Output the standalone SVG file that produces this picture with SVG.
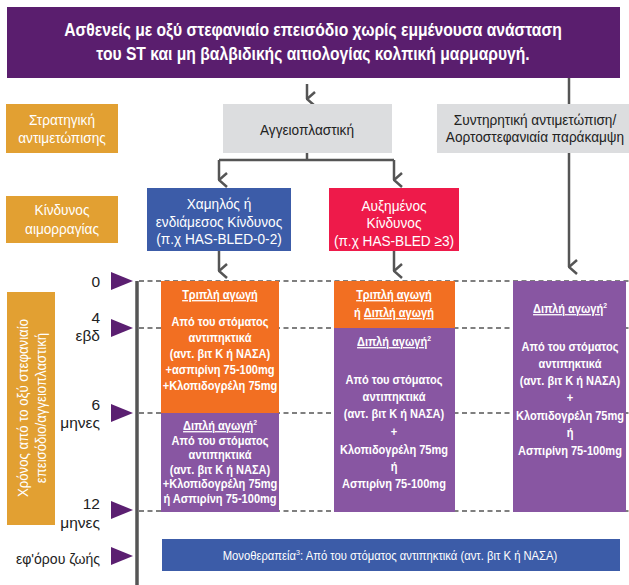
<svg xmlns="http://www.w3.org/2000/svg" width="629" height="585" viewBox="0 0 629 585">
<defs>
<style>
text{font-family:"Liberation Sans",Arial,sans-serif;}
.w{fill:#fff;}
.k{fill:#222;}
.c{text-anchor:middle;}
.b{font-weight:bold;}
.t{font-size:18px;}
.l{font-size:15.5px;}
.s{font-size:13px;}
.u{text-decoration:underline;}
.conn{stroke:#555;stroke-width:2.5;fill:none;}
.dash{stroke:#555;stroke-width:1.5;stroke-dasharray:5 3.5;fill:none;}
.tri{fill:#5b1f71;}
</style>
<marker id="chev" viewBox="0 0 16 10" refX="8" refY="9" markerWidth="16" markerHeight="10" markerUnits="userSpaceOnUse" orient="auto-start-reverse">
<path d="M1,1 L8,9 L15,1" fill="none" stroke="#555" stroke-width="2.5"/>
</marker>
</defs>
<rect width="629" height="585" fill="#fff"/>

<g id="title">
<rect x="7" y="7" width="613" height="71" fill="#5a1e6e"/>
<g transform="translate(313,0) scale(0.87,1)">
<text class="w b t c" x="0" y="36">Ασθενείς με οξύ στεφανιαίο επεισόδιο χωρίς εμμένουσα ανάσταση</text>
<text class="w b t c" x="0" y="60">του ST και μη βαλβιδικής αιτιολογίας κολπική μαρμαρυγή.</text>
</g>
</g>

<g id="connectors">
<path class="conn" d="M307,84 V99" marker-end="url(#chev)"/>
<path class="conn" d="M569,78 V104"/>
<path class="conn" d="M569,153 V267" marker-end="url(#chev)"/>
<path class="conn" d="M307,153 V160"/>
<path class="conn" d="M219,160 H394"/>
<path class="conn" d="M219,160 V180" marker-end="url(#chev)"/>
<path class="conn" d="M394,160 V180" marker-end="url(#chev)"/>
<path class="conn" d="M219,251 V271" marker-end="url(#chev)"/>
<path class="conn" d="M394,251 V271" marker-end="url(#chev)"/>
</g>

<g id="label-strategy">
<rect x="6" y="104" width="112" height="49" fill="#e2a032"/>
<g transform="translate(62,0) scale(0.88,1)">
<text class="w l c" x="0" y="125">Στρατηγική</text>
<text class="w l c" x="0" y="143">αντιμετώπισης</text>
</g>
</g>
<g id="angio">
<rect x="223" y="104" width="169" height="49" fill="#dcdddf"/>
<g transform="translate(307,0) scale(0.88,1)">
<text class="k l c" x="0" y="135">Αγγειοπλαστική</text>
</g>
</g>
<g id="conservative">
<rect x="437" y="104" width="192" height="49" fill="#dcdddf"/>
<g transform="translate(535,0) scale(0.88,1)">
<text class="k l c" x="0" y="125">Συντηρητική αντιμετώπιση/</text>
<text class="k l c" x="0" y="142">Αορτοστεφανιαία παράκαμψη</text>
</g>
</g>

<g id="label-bleeding">
<rect x="6" y="196" width="112" height="47" fill="#e2a032"/>
<g transform="translate(62,0) scale(0.88,1)">
<text class="w l c" x="0" y="215">Κίνδυνος</text>
<text class="w l c" x="0" y="234">αιμορραγίας</text>
</g>
</g>
<g id="low-risk">
<rect x="147" y="188" width="144" height="63" fill="#3c5ca8"/>
<g transform="translate(219,0) scale(0.88,1)">
<text class="w l c" x="0" y="209">Χαμηλός ή</text>
<text class="w l c" x="0" y="227">ενδιάμεσος Κίνδυνος</text>
<text class="w l c" x="0" y="244">(π.χ HAS-BLED-0-2)</text>
</g>
</g>
<g id="high-risk">
<rect x="329" y="188" width="130" height="63" fill="#ee1a4a"/>
<g transform="translate(394,0) scale(0.88,1)">
<text class="w l c" x="0" y="211">Αυξημένος</text>
<text class="w l c" x="0" y="228">Κίνδυνος</text>
<text class="w l c" x="0" y="246">(π.χ HAS-BLED ≥3)</text>
</g>
</g>

<g id="timeline">
<path d="M137,281 V585" stroke="#555" stroke-width="3.5" fill="none"/>
<path class="dash" d="M139,281 H629 M139,328 H629 M139,413 H629 M139,511 H629"/>
<polygon class="tri" points="111,272 133,281 111,290"/>
<polygon class="tri" points="111,319 133,328 111,337"/>
<polygon class="tri" points="111,404 133,413 111,422"/>
<polygon class="tri" points="111,501 133,510 111,519"/>
<polygon class="tri" points="111,547 133,556 111,565"/>
<text class="k l" x="100" y="287" text-anchor="end">0</text>
<text class="k l" x="100" y="323" text-anchor="end">4</text>
<text class="k l" x="100" y="341" text-anchor="end">εβδ</text>
<text class="k l" x="100" y="410" text-anchor="end">6</text>
<text class="k l" x="100" y="428" text-anchor="end">μηνες</text>
<text class="k l" x="100" y="509" text-anchor="end">12</text>
<text class="k l" x="100" y="528" text-anchor="end">μηνες</text>
<text class="k l" x="16" y="564" textLength="84" lengthAdjust="spacingAndGlyphs">εφ'όρου ζωής</text>
</g>

<g id="label-time">
<rect x="7" y="292" width="48" height="233" fill="#e2a032"/>
<text class="w l c" transform="translate(28,408) rotate(-90) scale(0.85,1)">Χρόνος από το οξύ στεφανιαίο</text>
<text class="w l c" transform="translate(46,408) rotate(-90) scale(0.85,1)">επεισόδιο/αγγειοπλαστική</text>
</g>

<g id="col1-triple">
<rect x="161" y="281" width="118" height="132" fill="#f26f22"/>
<g transform="translate(220,0) scale(0.85,1)">
<text class="w s b c u" x="0" y="299">Τριπλή αγωγή</text>
<text class="w s b c" x="0" y="326">Από του στόματος</text>
<text class="w s b c" x="0" y="342">αντιπηκτικά</text>
<text class="w s b c" x="0" y="358">(αντ. βιτ Κ ή ΝΑΣΑ)</text>
<text class="w s b c" x="0" y="374">+ασπιρίνη 75-100mg</text>
<text class="w s b c" x="0" y="390">+Κλοπιδογρέλη 75mg</text>
</g>
</g>
<g id="col1-dual">
<rect x="161" y="413" width="118" height="99" fill="#8856a2"/>
<g transform="translate(220,0) scale(0.85,1)">
<text class="w s b c" x="0" y="430"><tspan class="u">Διπλή αγωγή</tspan><tspan font-size="8" dy="-5">2</tspan></text>
<text class="w s b c" x="0" y="445">Από του στόματος</text>
<text class="w s b c" x="0" y="459">αντιπηκτικά</text>
<text class="w s b c" x="0" y="474">(αντ. βιτ Κ ή ΝΑΣΑ)</text>
<text class="w s b c" x="0" y="488">+Κλοπιδογρέλη 75mg</text>
<text class="w s b c" x="0" y="503">ή Ασπιρίνη 75-100mg</text>
</g>
</g>

<g id="col2-triple">
<rect x="334" y="281" width="121" height="47" fill="#f26f22"/>
<g transform="translate(394,0) scale(0.85,1)">
<text class="w s b c u" x="0" y="299">Τριπλή αγωγή</text>
<text class="w s b c" x="0" y="317">ή <tspan class="u">Διπλή αγωγή</tspan></text>
</g>
</g>
<g id="col2-dual">
<rect x="334" y="328" width="121" height="184" fill="#8856a2"/>
<g transform="translate(394,0) scale(0.85,1)">
<text class="w s b c" x="0" y="346"><tspan class="u">Διπλή αγωγή</tspan><tspan font-size="8" dy="-5">2</tspan></text>
<text class="w s b c" x="0" y="384">Από του στόματος</text>
<text class="w s b c" x="0" y="401">αντιπηκτικά</text>
<text class="w s b c" x="0" y="418">(αντ. βιτ Κ ή ΝΑΣΑ)</text>
<text class="w s b c" x="0" y="436">+</text>
<text class="w s b c" x="0" y="454">Κλοπιδογρέλη 75mg</text>
<text class="w s b c" x="0" y="471">ή</text>
<text class="w s b c" x="0" y="488">Ασπιρίνη 75-100mg</text>
</g>
</g>

<g id="col3-dual">
<rect x="513" y="281" width="113" height="231" fill="#8856a2"/>
<g transform="translate(570,0) scale(0.85,1)">
<text class="w s b c" x="0" y="313"><tspan class="u">Διπλή αγωγή</tspan><tspan font-size="8" dy="-5">2</tspan></text>
<text class="w s b c" x="0" y="351">Από του στόματος</text>
<text class="w s b c" x="0" y="368">αντιπηκτικά</text>
<text class="w s b c" x="0" y="385">(αντ. βιτ Κ ή ΝΑΣΑ)</text>
<text class="w s b c" x="0" y="402">+</text>
<text class="w s b c" x="0" y="420">Κλοπιδογρέλη 75mg</text>
<text class="w s b c" x="0" y="437">ή</text>
<text class="w s b c" x="0" y="455">Ασπιρίνη 75-100mg</text>
</g>
</g>

<g id="monotherapy">
<rect x="162" y="539" width="458" height="32" fill="#3c5ca8"/>
<g transform="translate(390,0) scale(0.9,1)">
<text class="w c" font-size="12.5" x="0" y="560">Μονοθεραπεία<tspan font-size="8" dy="-5">3</tspan><tspan dy="5">: Από του στόματος αντιπηκτικά (αντ. βιτ Κ ή ΝΑΣΑ)</tspan></text>
</g>
</g>
</svg>
